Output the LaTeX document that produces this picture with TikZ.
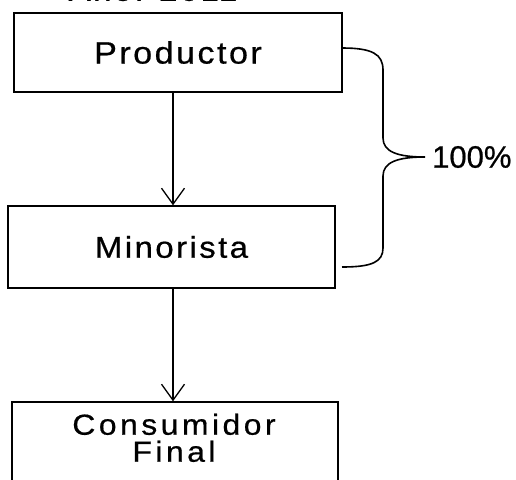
\documentclass[tikz,border=0pt]{standalone}
\usepackage{fontspec}
\setmainfont{Liberation Sans}
\newfontfamily\boxfont[FakeStretch=1.1,LetterSpace=8,FakeBold=0.6]{Liberation Sans}
\newfontfamily\consfont[FakeStretch=1.1,LetterSpace=12,FakeBold=0.6]{Liberation Sans}
\newfontfamily\pctfont[FakeBold=0.6]{Liberation Sans}
\usetikzlibrary{arrows.meta}
\tikzset{
  box/.style={draw=black, line width=1.4pt, rectangle, inner sep=0pt,
    font=\boxfont\fontsize{31pt}{36pt}\selectfont},
  arr/.style={draw=black, line width=1.3pt, -{Straight Barb[length=16pt,width=23pt,line width=1.3pt]}},
  brace/.style={draw=black, line width=1.6pt},
  lbl/.style={inner sep=0pt}
}
\begin{document}
\begin{tikzpicture}[x=1pt,y=-1pt]
\useasboundingbox (0,0) rectangle (516,479);
\fill[white] (0,0) rectangle (516,479);
\begin{scope}
\clip (0,0) rectangle (516,479);
\node[lbl, anchor=base, font=\boxfont\fontsize{30pt}{36pt}\selectfont] (year) at (153,0.8) {Año: 2011};
\node[box, minimum width=328pt, minimum height=79pt] (prod) at (178,52.5) {Productor};
\node[box, minimum width=327pt, minimum height=82pt, font=\boxfont\fontsize{30pt}{36pt}\selectfont] (mino) at (171.5,247) {Minorista};
\node[box, minimum width=326pt, minimum height=100pt] (cons) at (175,452) {};
\node[lbl, anchor=north, align=center, font=\consfont\fontsize{29pt}{27pt}\selectfont] (consl) at (174,413.5) {Consumidor\\Final};
\end{scope}
\coordinate (ax) at (173,0);
\draw[arr] (ax |- prod.south) -- (ax |- mino.north);
\draw[arr] (ax |- mino.south) -- (ax |- cons.north);
\coordinate (bs) at (342,48);
\coordinate (be) at (342,267);
\coordinate (tip) at (425,157);
\draw[brace] (bs) .. controls (372,48) and (383,54) .. (383,70) -- (383,138)
  .. controls (383,152) and (398,157) .. (tip)
  .. controls (398,157) and (383,162) .. (383,176) -- (383,248)
  .. controls (383,262) and (372,267) .. (be);
\node[lbl, anchor=west, font=\pctfont\fontsize{31pt}{36pt}\selectfont] (pct) at (432,157) {100\%};
\end{tikzpicture}
\end{document}
